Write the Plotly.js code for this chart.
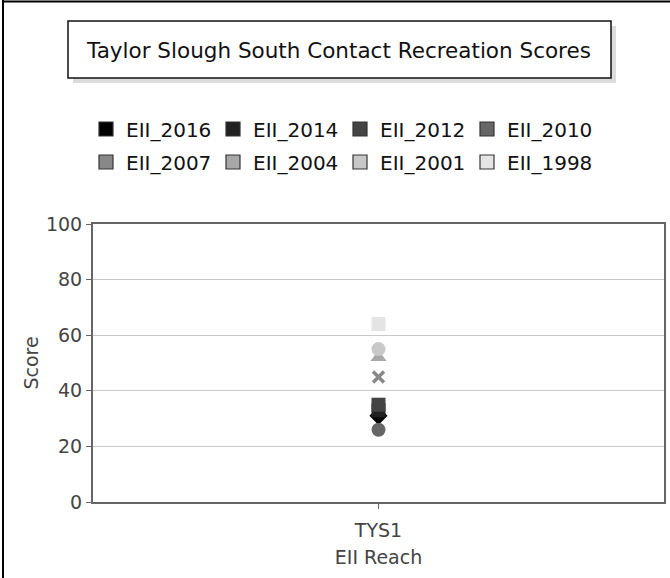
<!DOCTYPE html>
<html>
<head>
<meta charset="utf-8">
<script src="https://cdn.plot.ly/plotly-3.0.1.min.js"></script>
<style>
  body { margin: 0; background: #fff; }
  #plot { width: 670px; height: 578px; }
</style>
</head>
<body>
<div id="plot"></div>
<script>
const site = 'TYS1'
const years = ['EII_2016', 'EII_2014', 'EII_2012', 'EII_2010', 'EII_2007', 'EII_2004', 'EII_2001', 'EII_1998']
const scores = [31, 33, 35, 26, 45, 52, 55, 64]
const colors = ['#000000', '#222222', '#444444', '#666666', '#888888', '#a8a8a8', '#c8c8c8', '#e4e4e4']
const symbols = ['diamond', 'square', 'square', 'circle', 'x-thin-open', 'triangle-up', 'circle', 'square']

const FONT = 'DejaVu Sans, sans-serif'

// points, one trace per year
const pointTraces = years.map((name, i) => ({
  x: [site],
  y: [scores[i]],
  name,
  type: 'scatter',
  mode: 'markers',
  showlegend: false,
  hoverinfo: 'none',
  marker: {
    symbol: symbols[i],
    size: symbols[i] === 'x-thin-open' ? 11 : 14,
    color: colors[i],
    line: symbols[i] === 'x-thin-open' ? {color: colors[i], width: 3.5} : {width: 0},
  },
}))

// legend entries are plain squares with a dark edge
const legendTraces = years.map((name, i) => ({
  x: [null],
  y: [null],
  name,
  type: 'scatter',
  mode: 'markers',
  legend: i < 4 ? 'legend' : 'legend2',
  marker: {symbol: 'square', size: 14, color: colors[i], line: {color: '#333', width: 1.2}},
}))

const legendBase = {
  orientation: 'h',
  xref: 'container',
  yref: 'container',
  xanchor: 'left',
  yanchor: 'middle',
  x: 86 / 670,
  entrywidth: 82,
  entrywidthmode: 'pixels',
  itemsizing: 'trace',
  font: {family: FONT, size: 20, color: '#111'},
  bgcolor: 'rgba(0,0,0,0)',
}

// pixel -> paper helpers for the decorations outside the plot box
const L = 93, R = 664, T = 224, B = 502
const px = v => (v - L) / (R - L)
const py = v => (B - v) / (B - T)

const layout = {
  width: 670,
  height: 578,
  margin: {l: L, r: 670 - R, t: T, b: 578 - B},
  paper_bgcolor: '#fff',
  plot_bgcolor: '#fff',
  font: {family: FONT, size: 19, color: '#444'},
  title: {
    text: 'Taylor Slough South Contact Recreation Scores',
    font: {family: FONT, size: 21.5, color: '#111'},
    xref: 'paper',
    yref: 'container',
    x: px(339),
    xanchor: 'center',
    y: 1 - 50 / 578,
    yanchor: 'middle',
  },
  legend: {...legendBase, y: 1 - 129 / 578},
  legend2: {...legendBase, y: 1 - 162 / 578},
  xaxis: {
    type: 'category',
    showline: true,
    mirror: true,
    linecolor: '#666',
    linewidth: 2,
    ticks: 'outside',
    ticklen: 5,
    tickcolor: '#666',
    ticklabelstandoff: 5,
    showgrid: false,
    zeroline: false,
    tickfont: {family: FONT, size: 19, color: '#444'},
    title: {text: 'EII Reach', standoff: 11, font: {family: FONT, size: 19, color: '#444'}},
    automargin: false,
  },
  yaxis: {
    range: [0, 100],
    dtick: 20,
    showline: true,
    mirror: true,
    linecolor: '#666',
    linewidth: 2,
    ticks: 'outside',
    ticklen: 5,
    tickcolor: '#666',
    gridcolor: '#c8c8c8',
    gridwidth: 1,
    zeroline: false,
    tickfont: {family: FONT, size: 19, color: '#444'},
    title: {text: 'Score', standoff: 2, font: {family: FONT, size: 19, color: '#444'}},
    automargin: false,
  },
  shapes: [
    // page border, left and top
    {type: 'line', xref: 'paper', yref: 'paper', x0: px(3), x1: px(3), y0: py(580), y1: py(0), line: {color: '#000', width: 2}},
    {type: 'line', xref: 'paper', yref: 'paper', x0: px(2), x1: px(672), y0: py(1.5), y1: py(1.5), line: {color: '#000', width: 2}},
    // title box shadow and frame
    {type: 'rect', xref: 'paper', yref: 'paper', x0: px(73), x1: px(616), y0: py(83), y1: py(26), fillcolor: '#dcdcdc', line: {width: 0}},
    {type: 'rect', xref: 'paper', yref: 'paper', x0: px(68), x1: px(611), y0: py(78), y1: py(21), fillcolor: '#fff', line: {color: '#111', width: 1.5}},
  ],
}

Plotly.newPlot('plot', [...legendTraces, ...pointTraces], layout, {displayModeBar: false, staticPlot: true})
</script>
</body>
</html>
